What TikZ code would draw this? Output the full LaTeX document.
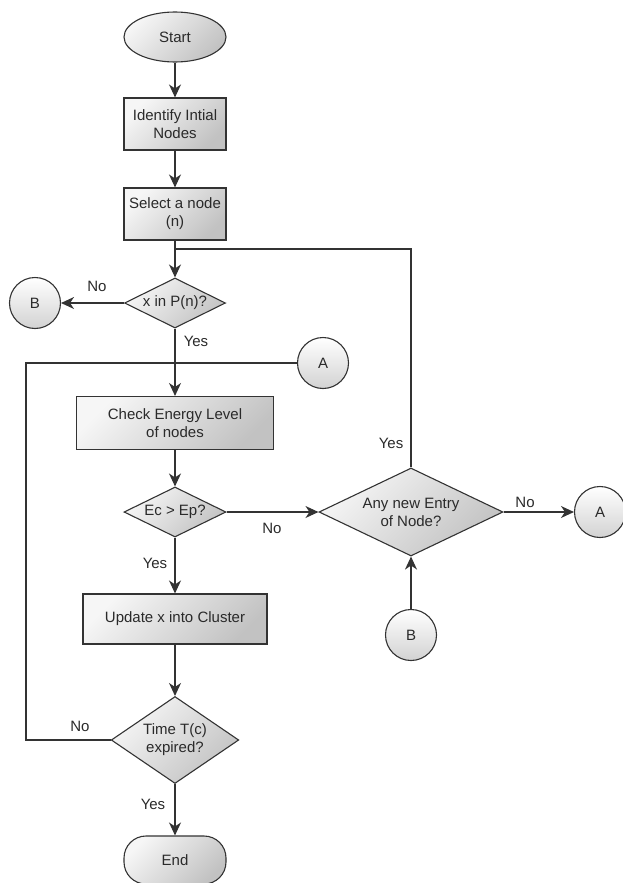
\documentclass[tikz,border=0pt]{standalone}
\usepackage{fontspec}
\setmainfont{Liberation Sans}
\usetikzlibrary{shapes.geometric,arrows.meta,calc}
\definecolor{lightf}{HTML}{F6F6F6}
\definecolor{darkf}{HTML}{C2C2C2}
\definecolor{linec}{HTML}{333333}
\definecolor{textc}{HTML}{2A2A2A}
\tikzset{
  base/.style={draw=linec, line width=1.1pt, top color=lightf, bottom color=darkf, shading angle=45,
    text=textc, font=\fontsize{15}{18}\selectfont, align=center, inner sep=0pt},
  procbox/.style={base, rectangle, minimum height=52pt},
  term/.style={base, ellipse, minimum width=102pt, minimum height=50pt},
  endterm/.style={base, rectangle, rounded corners=22pt, minimum width=102pt, minimum height=48pt},
  decision/.style={base, diamond, aspect=2},
  conn/.style={base, circle, minimum size=51pt, top color=white, bottom color=gray!35},
  lbl/.style={text=textc, font=\fontsize{15}{18}\selectfont, inner sep=0pt},
  flow/.style={draw=linec, line width=1.1pt},
  arr/.style={flow, -{Stealth[length=13pt, width=12pt, inset=4pt]}}
}
\begin{document}
\begin{tikzpicture}[x=1pt, y=-1pt]
\useasboundingbox (0,0) rectangle (623,883);
\node[term] (start) at (175,37) {Start};
\node[procbox, minimum width=102pt] (ident) at (175,124) {Identify Intial\\Nodes};
\node[procbox, minimum width=102pt] (sel) at (175,214) {Select a node\\(n)};
\node[decision, minimum width=101pt, minimum height=50pt] (d1) at (175,303) {x in P(n)?};
\node[conn] (b1) at (35,303) {B};
\node[conn] (a1) at (323,363) {A};
\node[procbox, minimum width=197pt, minimum height=53pt] (chk) at (175,423) {Check Energy Level\\of nodes};
\node[decision, minimum width=102pt, minimum height=50pt] (ec) at (175,512) {Ec > Ep?};
\node[decision, minimum width=184pt, minimum height=88pt] (any) at (411,512) {Any new Entry\\of Node?};
\node[conn] (a2) at (600,512) {A};
\node[conn] (b2) at (411,635) {B};
\node[procbox, minimum width=184pt, minimum height=50pt] (upd) at (175,619) {Update x into Cluster};
\node[decision, minimum width=120pt, minimum height=87pt] (tm) at (175,740) {Time T(c)\\expired?};
\node[endterm] (end) at (175,860) {End};

\coordinate (top) at (175,249);
\coordinate (join) at (175,363);
\coordinate (left) at (26,363);

\draw[arr] (start) -- (ident);
\draw[arr] (ident) -- (sel);
\draw[arr] (sel) -- (d1);
\draw[flow] (any.north) |- (top);
\draw[arr] (d1.west) -- (b1);
\draw[arr] (d1.south) -- (chk);
\draw[flow] (a1.west) -- (join);
\draw[flow] (tm.west) -| (left) -- (join);
\draw[arr] (chk) -- (ec);
\draw[arr] (ec.east) -- (any.west);
\draw[arr] (any.east) -- (a2);
\draw[arr] (b2) -- (any.south);
\draw[arr] (ec.south) -- (upd);
\draw[arr] (upd) -- (tm);
\draw[arr] (tm.south) -- (end);

\node[lbl] (l1) at (97,286) {No};
\node[lbl] (l2) at (196,341) {Yes};
\node[lbl] (l3) at (272,528) {No};
\node[lbl] (l4) at (155,563) {Yes};
\node[lbl] (l5) at (391,443) {Yes};
\node[lbl] (l6) at (525,502) {No};
\node[lbl] (l7) at (80,726) {No};
\node[lbl] (l8) at (153,804) {Yes};
\end{tikzpicture}
\end{document}
